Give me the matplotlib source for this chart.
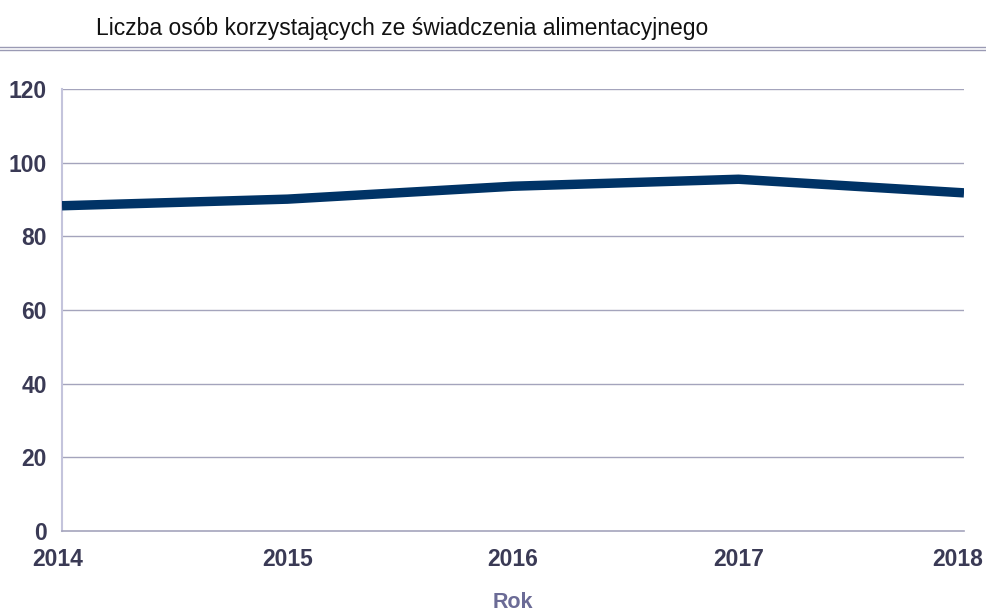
import matplotlib.pyplot as plt
from matplotlib.lines import Line2D
from matplotlib.transforms import ScaledTranslation

years = [2014, 2015, 2016, 2017, 2018]
people = [88.3, 90.1, 93.6, 95.5, 91.8]
y_ticks = [0, 20, 40, 60, 80, 100, 120]

title = "Liczba osób korzystających ze świadczenia alimentacyjnego"
x_label = "Rok"

plt.rcParams['font.family'] = ['Liberation Sans', 'DejaVu Sans']

W, H = 987, 611
fig = plt.figure(figsize=(W / 100, H / 100), dpi=100)
ax = fig.add_axes([62 / W, 1 - 531 / H, (964 - 62) / W, (531 - 89) / H])

for t in y_ticks[1:]:
    ax.axhline(t, color='#a4a4bc', linewidth=1.0, zorder=1)

ax.plot(years, people, color='#003366', linewidth=6.8, solid_joinstyle='miter',
        solid_capstyle='butt', zorder=3)

ax.set_xlim(years[0], years[-1])
ax.set_ylim(0, 120)
ax.set_xticks(years)
ax.set_yticks(y_ticks)
ax.tick_params(length=0, labelsize=16.5, colors='#3a3a55')
ax.tick_params(axis='x', pad=12)
ax.tick_params(axis='y', pad=11)
for lbl in ax.get_xticklabels() + ax.get_yticklabels():
    lbl.set_fontweight('bold')
# pull the first and last year labels slightly inwards
xl = ax.get_xticklabels()
xl[0].set_transform(xl[0].get_transform() + ScaledTranslation(-0.04, 0, fig.dpi_scale_trans))
xl[-1].set_transform(xl[-1].get_transform() + ScaledTranslation(-0.06, 0, fig.dpi_scale_trans))

for side in ['top', 'right']:
    ax.spines[side].set_visible(False)
ax.spines['left'].set_color('#c4c4dc')
ax.spines['left'].set_linewidth(1.5)
ax.spines['bottom'].set_color('#a4a4bc')
ax.spines['bottom'].set_linewidth(1.2)

ax.set_xlabel(x_label, fontsize=15.5, fontweight='bold', color='#6b6b96', labelpad=15)

fig.text(96 / W, 1 - 29 / H, title, fontsize=16.5, color='#111111', va='center', ha='left')

# double rule under the title
for yy in (46.5, 49.5):
    fig.add_artist(Line2D([0, 1], [1 - yy / H, 1 - yy / H], transform=fig.transFigure,
                          color='#9a9ab4', linewidth=1.0))

fig.savefig('out.png', dpi=100)
